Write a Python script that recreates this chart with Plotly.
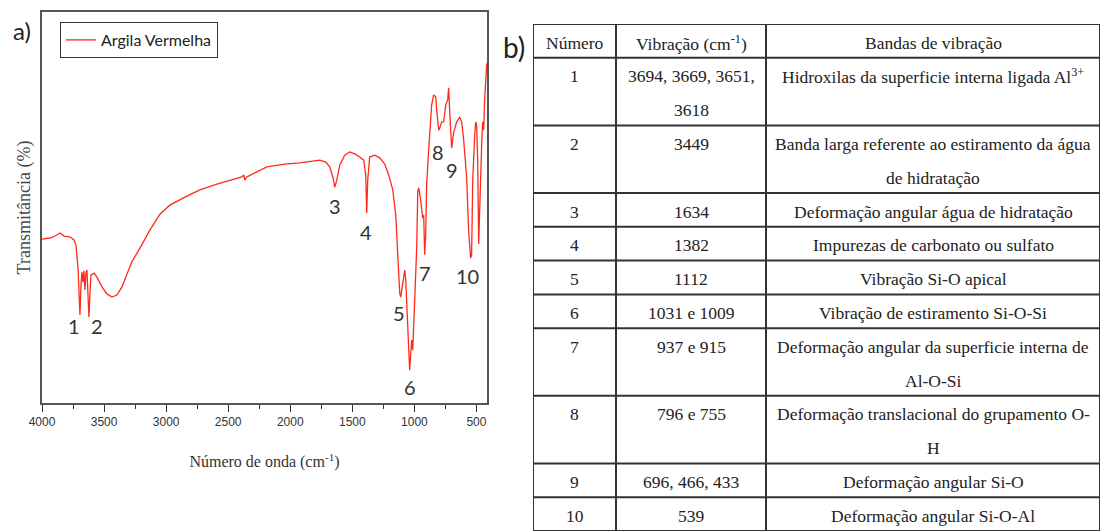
import plotly.graph_objects as go

# ---------------- spectrum data ----------------
wavenumber = [4000, 3936, 3895, 3855, 3823, 3775, 3742, 3726, 3710, 3702, 3694, 3686, 3678, 3670,
              3662, 3654, 3646, 3638, 3630, 3622, 3614, 3606, 3581, 3557, 3517, 3477, 3436, 3396,
              3356, 3316, 3276, 3211, 3131, 3050, 2970, 2833, 2728, 2591, 2487, 2390, 2374, 2366,
              2350, 2189, 2044, 1923, 1762, 1714, 1682, 1657, 1641, 1625, 1601, 1561, 1521, 1480,
              1440, 1408, 1392, 1384, 1376, 1360, 1319, 1279, 1239, 1207, 1174, 1150, 1134, 1118,
              1110, 1094, 1078, 1070, 1054, 1038, 1030, 1021, 1013, 1005, 997, 981, 973, 965, 949,
              933, 925, 917, 909, 901, 885, 877, 861, 845, 828, 820, 804, 796, 780, 764, 748, 732,
              724, 716, 700, 684, 659, 635, 619, 603, 579, 563, 547, 539, 530, 514, 506, 498, 490,
              482, 474, 466, 458, 450, 442, 434, 426, 418, 410]
transmittance = [41.9, 42.2, 42.7, 43.5, 42.7, 42.5, 41.7, 40.4, 34.5, 26.3, 22.5, 30.2, 33.5, 30.9,
                 33.8, 28.9, 33.2, 34.0, 28.9, 22.0, 27.6, 32.7, 33.2, 32.2, 29.7, 27.9, 27.1, 27.6,
                 29.7, 32.7, 36.1, 39.6, 44.2, 48.3, 50.6, 52.9, 54.5, 56.0, 57.0, 57.8, 58.3, 57.0,
                 57.8, 60.4, 61.1, 61.4, 62.1, 61.6, 60.4, 57.8, 55.2, 57.0, 60.9, 63.4, 64.2, 63.7,
                 62.9, 62.1, 58.3, 48.6, 57.0, 62.9, 63.4, 62.7, 61.1, 58.3, 54.5, 48.1, 37.9, 28.1,
                 27.1, 30.7, 34.0, 31.5, 18.7, 8.4, 12.3, 16.1, 13.6, 21.2, 28.9, 39.9, 54.0, 55.0,
                 51.9, 47.3, 48.1, 37.9, 43.0, 55.8, 64.7, 69.8, 76.2, 78.8, 78.3, 74.9, 69.8, 70.3,
                 71.9, 71.9, 76.2, 77.5, 80.6, 74.9, 65.2, 69.1, 71.9, 73.1, 71.9, 67.3, 57.8, 44.2,
                 37.1, 37.9, 57.0, 68.5, 71.9, 70.8, 62.1, 40.7, 49.4, 62.1, 66.0, 71.9, 69.8, 77.5,
                 82.6, 86.4, 87.2]

peak_labels = ["1", "2", "3", "4", "5", "6", "7", "8", "9", "10"]
peak_label_x = [3742, 3557, 1641, 1392, 1126, 1038, 917, 812, 700, 571]
peak_label_y = [19.7, 19.7, 50.4, 43.7, 23.0, 4.1, 33.2, 64.2, 59.6, 32.5]

x_ticks = [4000, 3500, 3000, 2500, 2000, 1500, 1000, 500]

# ---------------- table data ----------------
table_header = ["Número", "Vibração (cm<sup>-1</sup>)", "Bandas de vibração"]
table_numero = ["1", "2", "3", "4", "5", "6", "7", "8", "9", "10"]
table_vibracao = [["3694, 3669, 3651,", "3618"], ["3449"], ["1634"], ["1382"], ["1112"],
                  ["1031 e 1009"], ["937 e 915"], ["796 e 755"], ["696, 466, 433"], ["539"]]
table_bandas = [["Hidroxilas da superficie interna ligada Al<sup>3+</sup>"],
                ["Banda larga referente ao estiramento da água", "de hidratação"],
                ["Deformação angular água de hidratação"],
                ["Impurezas de carbonato ou sulfato"],
                ["Vibração Si-O apical"],
                ["Vibração de estiramento Si-O-Si"],
                ["Deformação angular da superficie interna de", "Al-O-Si"],
                ["Deformação translacional do grupamento O-", "H"],
                ["Deformação angular Si-O"],
                ["Deformação angular Si-O-Al"]]

# layout constants (positions / styles)
COL_EDGES = [0, 83, 233, 567]
W, H = 1102, 531
RED = "#ff2a1a"
SERIF = "Liberation Serif"
SANS = "Lato"

fig = go.Figure()
fig.add_trace(go.Scatter(x=wavenumber, y=transmittance, mode="lines",
                         line=dict(color=RED, width=1.3), name="Argila Vermelha",
                         xaxis="x", yaxis="y"))

annotations = []
for lab, lx, ly in zip(peak_labels, peak_label_x, peak_label_y):
    annotations.append(dict(x=lx, y=ly, xref="x", yref="y", text=lab, showarrow=False,
                            xanchor="center", yanchor="middle",
                            font=dict(family=SANS, size=20, color="#333")))

annotations.append(dict(x=22 / W, y=1 - 31 / H, xref="paper", yref="paper", text="a)",
                        showarrow=False, xanchor="center", yanchor="middle",
                        font=dict(family=SANS, size=24, color="#222")))
annotations.append(dict(x=514 / W, y=1 - 47 / H, xref="paper", yref="paper", text="b)",
                        showarrow=False, xanchor="center", yanchor="middle",
                        font=dict(family=SANS, size=28, color="#222")))

# ---------------- table drawing ----------------
all_rows = [([table_header[0]], [table_header[1]], [table_header[2]])]
for n, v, b in zip(table_numero, table_vibracao, table_bandas):
    all_rows.append(([n], v, b))

shapes = []
line_style = dict(color="#333333", width=2)
y0 = 0
boundaries = [0]
for cells in all_rows:
    nlines = max(len(c) for c in cells)
    for ci, c in enumerate(cells):
        xc = (COL_EDGES[ci] + COL_EDGES[ci + 1]) / 2
        for li, txt in enumerate(c):
            annotations.append(dict(x=xc, y=y0 + li + 0.55, xref="x2", yref="y2", text=txt,
                                    showarrow=False, xanchor="center", yanchor="middle",
                                    font=dict(family=SERIF, size=17.5, color="#222")))
    y0 += nlines
    boundaries.append(y0)
total = y0
for yb in boundaries:
    shapes.append(dict(type="line", xref="x2", yref="y2", x0=COL_EDGES[0], x1=COL_EDGES[-1],
                       y0=yb, y1=yb, line=line_style))
for xe in COL_EDGES:
    shapes.append(dict(type="line", xref="x2", yref="y2", x0=xe, x1=xe, y0=0, y1=total,
                       line=line_style))

fig.update_layout(
    width=W, height=H,
    margin=dict(l=0, r=0, t=0, b=0, autoexpand=False),
    paper_bgcolor="white", plot_bgcolor="white",
    showlegend=True,
    legend=dict(x=60 / W, y=1 - 22 / H, xanchor="left", yanchor="top",
                bordercolor="#333", borderwidth=1, bgcolor="white",
                font=dict(family=SANS, size=16, color="#222")),
    xaxis=dict(domain=[42 / W, 487 / W], range=[4000, 415], tickvals=x_ticks,
               automargin=False,
               ticks="outside", ticklen=7, tickwidth=1.2, tickcolor="#333",
               minor=dict(dtick=250, ticks="outside", ticklen=4, tickcolor="#333", tickwidth=1.2),
               showline=True, linecolor="#555", linewidth=1.5, mirror=True,
               showgrid=False, zeroline=False,
               tickfont=dict(family="Liberation Sans", size=12, color="#333"),
               title=dict(text="Número de onda (cm<sup>-1</sup>)", standoff=28,
                          font=dict(family=SERIF, size=16, color="#333"))),
    yaxis=dict(domain=[1 - 403 / H, 1 - 12 / H], range=[0, 100], showticklabels=False,
               automargin=False,
               ticks="", showline=True, linecolor="#555", linewidth=1.5, mirror=True,
               showgrid=False, zeroline=False,
               title=dict(text="Transmitância (%)", standoff=5,
                          font=dict(family=SERIF, size=18, color="#444"))),
    xaxis2=dict(domain=[533 / W, 1100 / W], range=[COL_EDGES[0], COL_EDGES[-1]], visible=False,
                anchor="y2", automargin=False),
    yaxis2=dict(domain=[0, 1 - 24 / H], range=[total, 0], visible=False, anchor="x2",
                automargin=False),
    shapes=shapes,
    annotations=annotations,
)

fig.write_html("out.html",
               config={"displayModeBar": False},
               post_script="document.body.style.margin='0';"
                           "document.documentElement.style.overflow='hidden';")
